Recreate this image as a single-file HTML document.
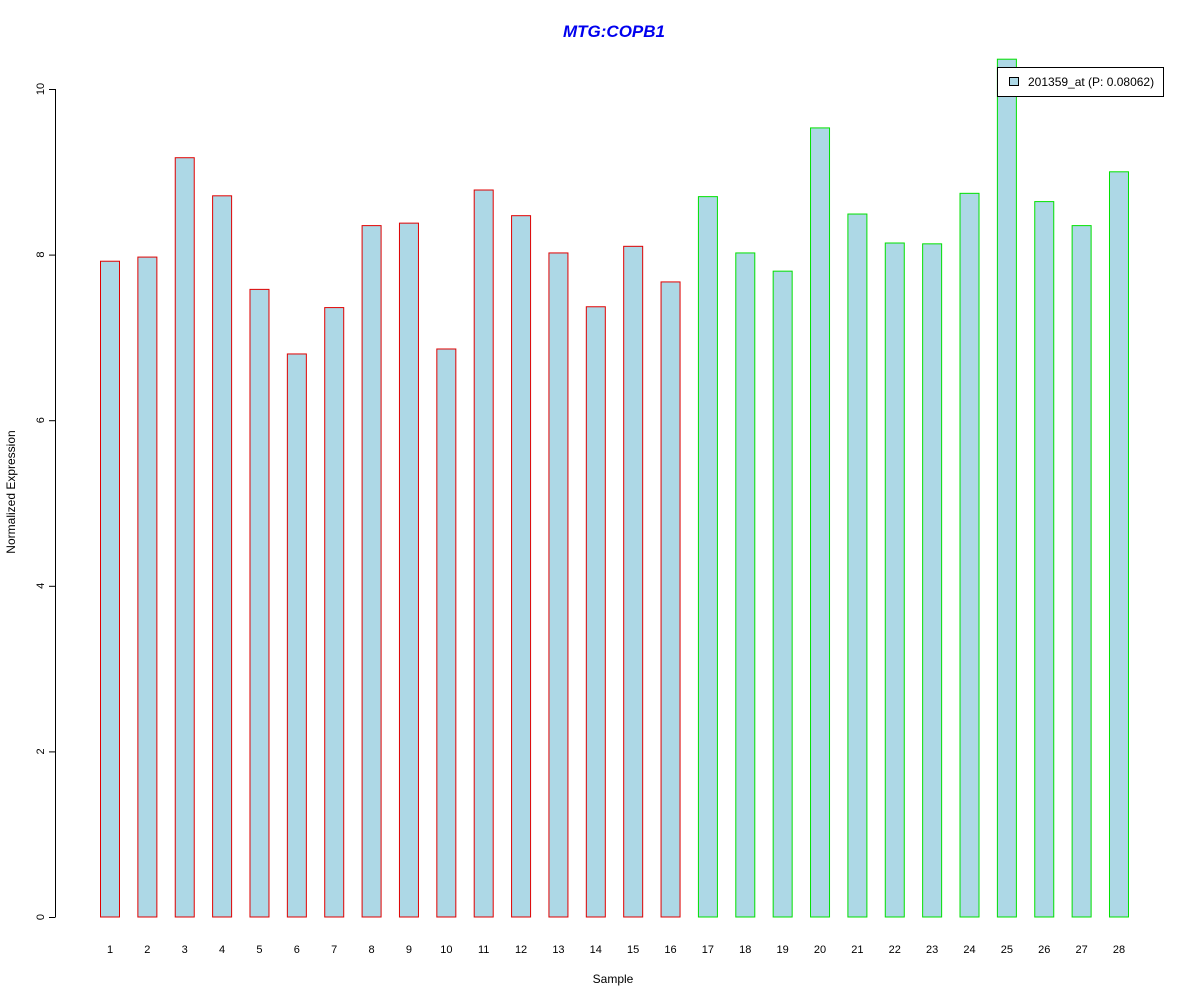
<!DOCTYPE html>
<html><head><meta charset="utf-8"><style>body{margin:0;background:#fff}svg{display:block;font-family:"Liberation Sans",Arial,sans-serif}</style></head>
<body>
<svg id="chart" width="1200" height="1000">
<text x="614" y="37" text-anchor="middle" font-size="17" font-weight="bold" font-style="italic" fill="#0000ee">MTG:COPB1</text>
<text x="613" y="983" text-anchor="middle" font-size="12">Sample</text>
<text transform="translate(15,492) rotate(-90)" text-anchor="middle" font-size="12">Normalized Expression</text>
<g id="yaxis"></g>
<g id="bars"></g>
<g id="xlabels"></g>
<g>
<rect x="997.5" y="67.5" width="166" height="29" fill="#fff" stroke="#000"/>
<rect x="1009.5" y="77.5" width="9" height="8" fill="#add8e6" stroke="#000"/>
<text x="1028" y="86" font-size="12">201359_at (P: 0.08062)</text>
</g>
</svg>
<script>
const categories=["1","2","3","4","5","6","7","8","9","10","11","12","13","14","15","16","17","18","19","20","21","22","23","24","25","26","27","28"];
const values=[7.92,7.97,9.17,8.71,7.58,6.80,7.36,8.35,8.38,6.86,8.78,8.47,8.02,7.37,8.10,7.67,8.70,8.02,7.80,9.53,8.49,8.14,8.13,8.74,10.36,8.64,8.35,9.00];
const groups=["red","red","red","red","red","red","red","red","red","red","red","red","red","red","red","red","green","green","green","green","green","green","green","green","green","green","green","green"];
const yTicks=[0,2,4,6,8,10];
const NS="http://www.w3.org/2000/svg";
const y=v=>917-v*82.8;
const x=i=>110+i*37.37;
function mk(t,a,p){const e=document.createElementNS(NS,t);for(const k in a)e.setAttribute(k,a[k]);p.appendChild(e);return e;}
const ya=document.getElementById('yaxis');
mk('line',{x1:55.5,x2:55.5,y1:y(0),y2:y(10),stroke:'#000'},ya);
yTicks.forEach(t=>{
 const l=mk('line',{x1:49,x2:55.5,y1:y(t)+0.5,y2:y(t)+0.5,stroke:'#000'},ya);
 
 
 const tx=mk('text',{transform:`translate(44,${y(t)}) rotate(-90)`,'text-anchor':'middle','font-size':11},ya);
 tx.textContent=t;
 
 
});
const bg=document.getElementById('bars'),xl=document.getElementById('xlabels');
values.forEach((v,i)=>{
 const r=mk('rect',{x:x(i)-9.5,y:y(v),width:19,height:y(0)-y(v),fill:'#add8e6',stroke:groups[i]==='red'?'#e00000':'#00e000'},bg);
 
 
 const t=mk('text',{x:x(i),y:953,'text-anchor':'middle','font-size':11},xl);
 t.textContent=categories[i];
 
 
});
</script>
</body></html>
